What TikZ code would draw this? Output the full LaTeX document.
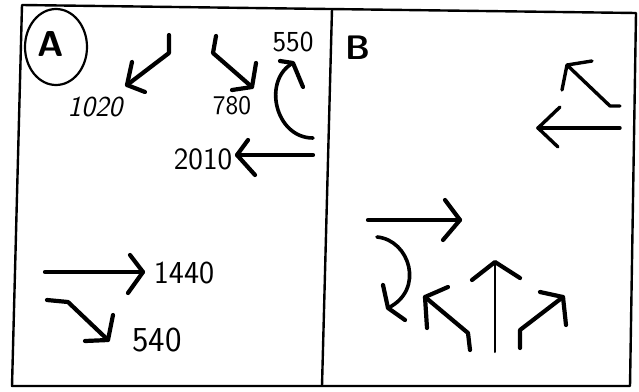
\documentclass[tikz,border=0pt]{standalone}
\usepackage{tikz}
\usetikzlibrary{calc}

\begin{document}
\begin{tikzpicture}[
    x=1pt, y=-1pt,
    frame/.style={line width=2.4pt, line join=round},
    stroke/.style={line width=4.2pt, line cap=round, line join=round},
    thinstroke/.style={line width=2pt, line cap=round},
    num/.style={font=\sffamily\fontsize{29}{29}\selectfont, inner sep=0pt},
    panellbl/.style={font=\sffamily\bfseries\fontsize{36}{36}\selectfont, inner sep=0pt},
]

% ── Bounding box ────────────────────────────────────────────────
\useasboundingbox (0,0) rectangle (639,391);

% ── Frame and divider ───────────────────────────────────────────
\draw[frame] (22,5) -- (636,13) -- (630,386) -- (12,386) -- cycle;
\draw[frame] (332,9) -- (322,386);

% ── Panel A ─────────────────────────────────────────────────────
\draw[line width=2.2pt] (56,47) ellipse (31 and 38);
\node[panellbl] (lblA) at (51,44) {A};

% down-left turn
\draw[stroke] (169,35) -- (169,53) -- (127,85);
\draw[stroke] (132,62) -- (127,85) -- (145,92);
\node[num, font=\sffamily\itshape\fontsize{29}{29}\selectfont] (n1020) at (95,107) {1020};

% down-right turn
\draw[stroke] (216,36) -- (213,53) -- (252,87);
\draw[stroke] (256,63) -- (252,87) -- (232,90);
\node[num, font=\sffamily\fontsize{27}{27}\selectfont] (n780) at (232,106) {780};

% U-turn
\node[num] (n550) at (293,42) {550};
\draw[stroke, line width=3.6pt] (313,138) .. controls (275,138) and (262,80) .. (293,63);
\draw[stroke] (280,61) -- (293,63) -- (303,87);

% left
\draw[stroke] (313,155) -- (237,155);
\draw[stroke] (248,140) -- (237,155) -- (255,175);
\node[num, font=\sffamily\fontsize{31}{31}\selectfont] (n2010) at (203,159) {2010};

% through
\draw[stroke] (45,272) -- (143,272);
\draw[stroke] (130,255) -- (143,272) -- (128,293);
\node[num, font=\sffamily\fontsize{32}{32}\selectfont] (n1440) at (184,273) {1440};

% slight right
\draw[stroke] (47,300) -- (68,302) -- (108,340);
\draw[stroke] (113,315) -- (108,340) -- (85,341);
\node[num, font=\sffamily\fontsize{35}{35}\selectfont] (n540) at (157,340) {540};

% ── Panel B ─────────────────────────────────────────────────────
\node[panellbl, font=\sffamily\bfseries\fontsize{34}{34}\selectfont] (lblB) at (358,48) {B};

% slight left (top)
\draw[stroke, line width=3.4pt] (620,106) -- (610,106) -- (567,65);
\draw[stroke, line width=3.4pt] (592,61) -- (567,65) -- (562,90);

% left
\draw[stroke, line width=3.4pt] (620,128) -- (538,128);
\draw[stroke, line width=3.4pt] (560,107) -- (538,128) -- (558,147);

% through
\draw[stroke] (368,220) -- (460,220);
\draw[stroke] (445,200) -- (460,220) -- (443,240);

% U-turn down
\draw[stroke, line width=3.6pt] (377,237) .. controls (410,240) and (425,290) .. (388,308);
\draw[stroke] (383,285) -- (388,308) -- (405,320);

% slight left (bottom)
\draw[stroke] (470,350) -- (468,333) -- (425,297);
\draw[stroke] (448,287) -- (425,297) -- (427,328);

% straight up
\draw[thinstroke] (495,352) -- (495,262);
\draw[stroke] (472,280) -- (495,262) -- (520,278);

% slight right (bottom)
\draw[stroke] (520,348) -- (520,330) -- (563,297);
\draw[stroke] (540,292) -- (563,297) -- (566,325);

\end{tikzpicture}
\end{document}
